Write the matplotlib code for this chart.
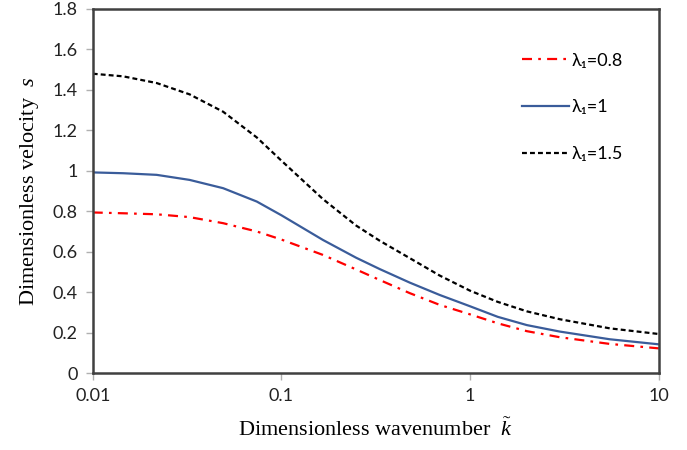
import numpy as np
import matplotlib
matplotlib.use("Agg")
import matplotlib.pyplot as plt

# data
k = [0.01, 0.0145, 0.0218, 0.0326, 0.0491, 0.074, 0.1, 0.166, 0.249, 0.332,
     0.479, 0.69, 1.0, 1.4, 2.0, 2.99, 5.5, 10.0]
s_08 = [0.794, 0.790, 0.785, 0.771, 0.741, 0.700, 0.660, 0.584, 0.512, 0.460,
        0.395, 0.337, 0.290, 0.246, 0.207, 0.177, 0.144, 0.122]
s_10 = [0.992, 0.988, 0.980, 0.955, 0.914, 0.848, 0.780, 0.658, 0.570, 0.514,
        0.447, 0.386, 0.330, 0.278, 0.237, 0.205, 0.167, 0.142]
s_15 = [1.480, 1.467, 1.434, 1.378, 1.292, 1.165, 1.050, 0.860, 0.729, 0.654,
        0.568, 0.482, 0.407, 0.352, 0.305, 0.266, 0.221, 0.193]
labels = ["λ₁=0.8", "λ₁=1", "λ₁=1.5"]
xticks = [0.01, 0.1, 1, 10]
xticklabels = ["0.01", "0.1", "1", "10"]
yticks = [0, 0.2, 0.4, 0.6, 0.8, 1.0, 1.2, 1.4, 1.6, 1.8]
yticklabels = ["0", "0.2", "0.4", "0.6", "0.8", "1", "1.2", "1.4", "1.6", "1.8"]

plt.rcParams["mathtext.fontset"] = "custom"
plt.rcParams["mathtext.rm"] = "Liberation Serif"
plt.rcParams["mathtext.it"] = "Liberation Serif:italic"

fig = plt.figure(figsize=(6.87, 4.5), dpi=100)
ax = fig.add_axes([0.135, 0.171, 0.824, 0.809])

ax.plot(k, s_08, color="#ff0000", lw=1.6, dashes=(4.5, 2.8, 1.2, 2.8), label=labels[0])
ax.plot(k, s_10, color="#3a5c9a", lw=1.6, label=labels[1])
ax.plot(k, s_15, color="black", lw=1.6, dashes=(2.2, 1.4), label=labels[2])

ax.set_xscale("log")
ax.set_xlim(0.01, 10)
ax.set_ylim(0, 1.8)
ax.set_xticks(xticks)
ax.set_xticklabels(xticklabels)
ax.xaxis.set_minor_locator(matplotlib.ticker.NullLocator())
ax.set_yticks(yticks)
ax.set_yticklabels(yticklabels)

tick_font = ["Lato", "DejaVu Sans"]
for lab in ax.get_xticklabels() + ax.get_yticklabels():
    lab.set_family(tick_font)
    lab.set_fontsize(13)
    lab.set_color("#222222")
ax.tick_params(direction="out", length=5, width=1, color="#b0b0b0", pad=6)

for sp in ax.spines.values():
    sp.set_color("#404040")
    sp.set_linewidth(1.8)

ax.set_xlabel(r"Dimensionless wavenumber  $\tilde{k}$", family="Liberation Serif", fontsize=16, labelpad=10)
ax.set_ylabel(r"Dimensionless velocity  $s$", family="Liberation Serif", fontsize=16, labelpad=8)

leg = ax.legend(loc="upper left", bbox_to_anchor=(0.73, 0.925), frameon=False,
                handlelength=2.6, handletextpad=0.15, labelspacing=1.7,
                prop={"family": ["Lato", "DejaVu Sans"], "size": 13})

fig.savefig("out.png", dpi=100)
